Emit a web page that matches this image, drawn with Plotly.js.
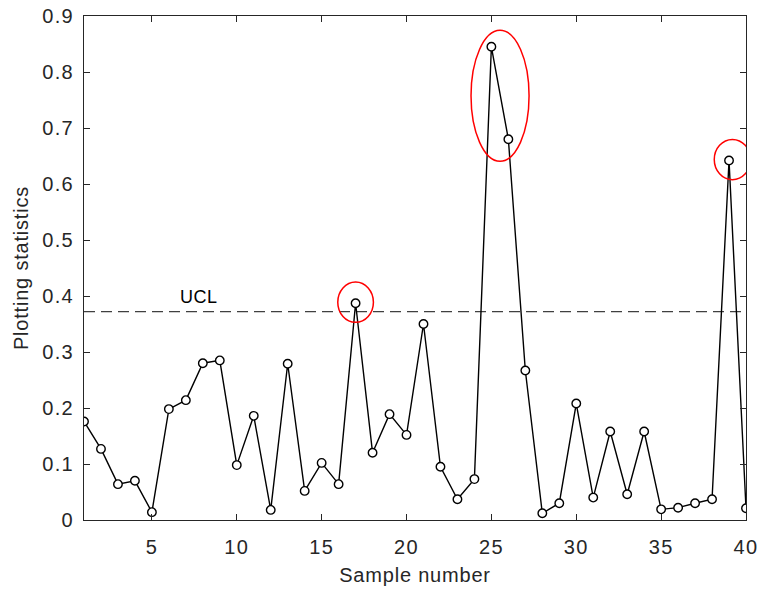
<!DOCTYPE html>
<html><head><meta charset="utf-8">
<script src="https://cdn.plot.ly/plotly-3.0.1.min.js"></script>
<style>body{margin:0;padding:0;background:#fff}#c{width:759px;height:593px}
.xtick text,.ytick text{letter-spacing:1.3px !important}
.xtitle,.ytitle{letter-spacing:0.8px !important}
.annotation-text{letter-spacing:0.5px !important}
</style>
</head><body><div id="c"></div>
<script>
const samples = Array.from({length:40},(_,i)=>i+1);
const stats = [0.176,0.127,0.064,0.070,0.014,0.198,0.214,0.280,0.285,0.098,
               0.186,0.018,0.279,0.052,0.102,0.064,0.387,0.120,0.189,0.152,
               0.350,0.095,0.037,0.073,0.845,0.680,0.267,0.012,0.030,0.208,
               0.040,0.158,0.046,0.158,0.019,0.022,0.030,0.037,0.642,0.021];
const ucl = 0.372;
const xTicks = [5,10,15,20,25,30,35,40];
const yTicks = [0,0.1,0.2,0.3,0.4,0.5,0.6,0.7,0.8,0.9];
const yTickText = ['0','0.1','0.2','0.3','0.4','0.5','0.6','0.7','0.8','0.9'];

const axColor = '#262626';
const fam = 'Liberation Sans, Arial, sans-serif';
const tickFont = {family:fam, size:20, color:axColor};
const titleFont = {family:fam, size:20, color:axColor};

const traces = [
  {x:[1,40], y:[ucl,ucl], mode:'lines', line:{color:'#404040', width:1.2, dash:'11px,6px'}, hoverinfo:'skip'},
  {x:samples, y:stats, mode:'lines+markers',
   line:{color:'#000', width:1.4},
   marker:{symbol:'circle', size:8.5, color:'#fff', line:{color:'#000', width:1.4}}}
];

function ell(cx, cy, rx, ry){
  return {type:'circle', xref:'x', yref:'y', x0:cx-rx, x1:cx+rx, y0:cy-ry, y1:cy+ry,
          line:{color:'#ff0000', width:1.5}};
}

const layout = {
  width:759, height:593,
  margin:{l:84, r:13, t:16, b:73},
  showlegend:false,
  paper_bgcolor:'#fff', plot_bgcolor:'#fff',
  font:tickFont,
  xaxis:{range:[1,40], tickvals:xTicks, ticks:'inside', ticklen:6, tickcolor:axColor, ticklabelstandoff:9,
         showline:true, linecolor:axColor, linewidth:1, mirror:'ticks', showgrid:false, zeroline:false,
         tickfont:tickFont, title:{text:'Sample number', font:titleFont, standoff:10}},
  yaxis:{range:[0,0.9], tickvals:yTicks, ticktext:yTickText, ticks:'inside', ticklen:6, tickcolor:axColor, ticklabelstandoff:5,
         showline:true, linecolor:axColor, linewidth:1, mirror:'ticks', showgrid:false, zeroline:false,
         tickfont:tickFont, title:{text:'Plotting statistics', font:titleFont, standoff:8}},
  shapes:[ell(17.0,0.389,1.05,0.036), ell(25.51,0.7575,1.71,0.117), ell(39.2,0.6436,1.07,0.036)],
  annotations:[{x:7.8, y:ucl, xref:'x', yref:'y', text:'UCL', showarrow:false, yanchor:'bottom', yshift:3,
                font:{family:fam, size:18, color:'#000'}}]
};
Plotly.newPlot('c', traces, layout, {displayModeBar:false, staticPlot:true});
</script></body></html>
